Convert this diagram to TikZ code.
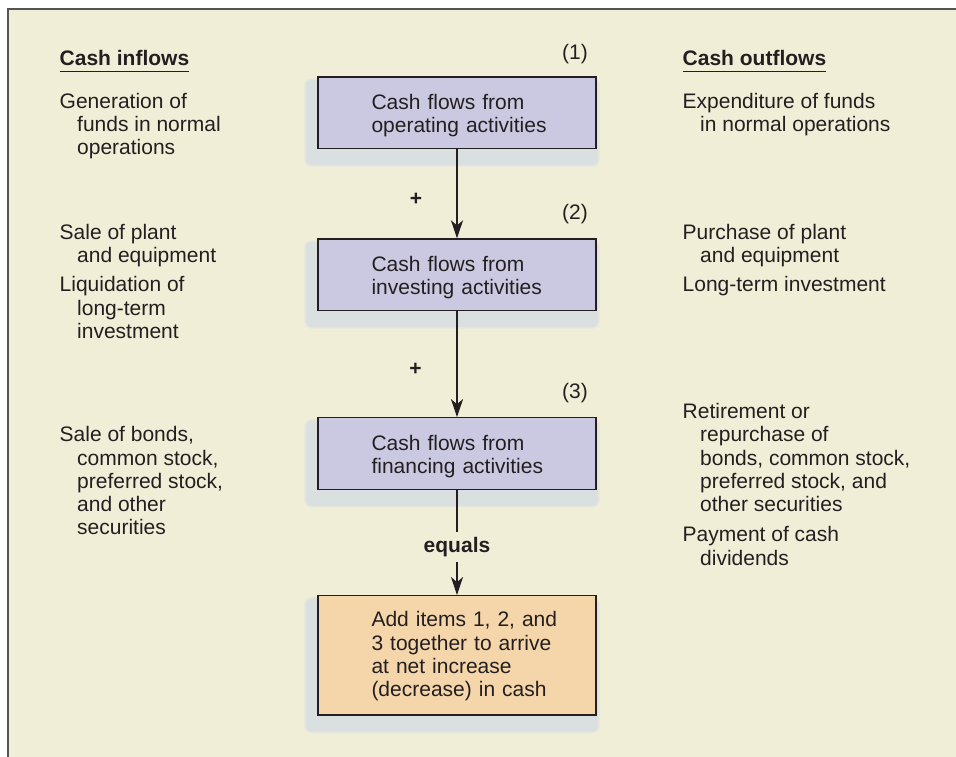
\documentclass[tikz,border=0pt]{standalone}
\usepackage{fontspec}
\setmainfont{Liberation Sans}
\usetikzlibrary{arrows.meta}
\definecolor{cream}{RGB}{241,238,216}
\definecolor{lav}{RGB}{203,201,225}
\definecolor{peach}{RGB}{245,214,170}
\definecolor{shad}{RGB}{218,223,224}
\definecolor{shadsoft}{RGB}{229,231,222}
\definecolor{ink}{RGB}{35,31,32}
\definecolor{framec}{RGB}{85,85,85}
\pgfdeclarelayer{bg}
\pgfsetlayers{bg,main}
\newcommand{\bxi}{\hspace*{53.5pt}}
\newcommand{\ind}{\hspace*{17.5pt}}
\tikzset{
 txt/.style={anchor=base west, inner sep=0pt, align=left, text=ink, font=\fontsize{21}{23.3}\selectfont},
 head/.style={anchor=base west, inner sep=0pt, text=ink, font=\fontsize{21}{23.3}\selectfont\bfseries},
 ul/.style={draw=ink, line width=1.5pt},
 flowbox/.style={draw=ink, line width=1.2pt, fill=lav, text=ink, minimum height=71.5pt,
   text width=278pt, inner xsep=0pt, inner ysep=0pt, align=left,
   font=\fontsize{21}{23.3}\selectfont, text height=15pt, text depth=21.5pt},
 num/.style={text=ink, inner sep=0pt, font=\fontsize{21}{23.3}\selectfont},
 plus/.style={text=ink, inner sep=0pt, font=\fontsize{21}{23.3}\selectfont\bfseries},
 arr/.style={draw=ink, line width=2pt, -{Stealth[length=18pt,width=12pt,inset=5pt]}},
 conn/.style={draw=ink, line width=2pt},
}
\begin{document}
\begin{tikzpicture}[x=1pt,y=-1pt]
\useasboundingbox (0,0) rectangle (956,757);

% flow boxes
\node[flowbox] (b1) at (457,112.75) {\bxi Cash flows from\\\bxi operating activities};
\node[flowbox] (b2) at (457,274.75) {\bxi Cash flows from\\\bxi investing activities};
\node[flowbox] (b3) at (457,453.5) {\bxi Cash flows from\\\bxi financing activities};
\node[flowbox, fill=peach, minimum height=119.3pt, text depth=72.3pt] (b4) at (457,655.35)
  {\bxi Add items 1, 2, and\\\bxi 3 together to arrive\\\bxi at net increase\\\bxi (decrease) in cash};

% background and shadows
\begin{pgfonlayer}{bg}
 \fill[white] (0,0) rectangle (956,757);
 \fill[cream] (8,9) rectangle (956,757);
 \foreach \b in {b1,b2,b3,b4}{
   \fill[shadsoft, rounded corners=7pt] ([xshift=-13pt,yshift=-2pt]\b.north west) rectangle ([xshift=3pt,yshift=-17.5pt]\b.south east);
   \fill[shad, rounded corners=6pt] ([xshift=-11.5pt,yshift=-3.5pt]\b.north west) rectangle ([xshift=1.5pt,yshift=-16pt]\b.south east);
 }
\end{pgfonlayer}

\draw[framec, line width=1.2pt] (8,757) -- (8,9) -- (956,9);

% numbers and operators
\node[num] (n1) at (575,54) {(1)};
\node[num] (n2) at (575,214.5) {(2)};
\node[num] (n3) at (575,393) {(3)};
\node[plus] (p1) at (416,199) {+};
\node[plus] (p2) at (415.5,369) {+};
\node[plus, inner sep=5pt] (eq) at (457,547.3) {equals};

% connectors
\draw[arr] (b1.south) -- (b2.north);
\draw[arr] (b2.south) -- (b3.north);
\draw[conn] (b3.south) -- (eq.north);
\draw[arr] (eq.south) -- (b4.north);

% left column (anchors at the baseline of the last line)
\node[head] (inh) at (59.5,66) {Cash inflows};
\draw[ul] ([yshift=-5.7pt]inh.base west) -- ([yshift=-5.7pt]inh.base east);
\node[txt] (l1) at (59.5,154.9) {Generation of\\\ind funds in normal\\\ind operations};
\node[txt] (l2) at (59.5,262.7) {Sale of plant\\\ind and equipment};
\node[txt] (l3) at (59.5,338.3) {Liquidation of\\\ind long-term\\\ind investment};
\node[txt] (l4) at (59.5,534.9) {Sale of bonds,\\\ind common stock,\\\ind preferred stock,\\\ind and other\\\ind securities};

% right column
\node[head] (outh) at (682.5,66) {Cash outflows};
\draw[ul] ([yshift=-5.7pt]outh.base west) -- ([yshift=-5.7pt]outh.base east);
\node[txt] (r1) at (682.5,131.6) {Expenditure of funds\\\ind in normal operations};
\node[txt] (r2) at (682.5,262.7) {Purchase of plant\\\ind and equipment};
\node[txt] (r3) at (682.5,291.7) {Long-term investment};
\node[txt] (r4) at (682.5,511.6) {Retirement or\\\ind repurchase of\\\ind bonds, common stock,\\\ind preferred stock, and\\\ind other securities};
\node[txt] (r5) at (682.5,565) {Payment of cash\\\ind dividends};
\end{tikzpicture}
\end{document}
